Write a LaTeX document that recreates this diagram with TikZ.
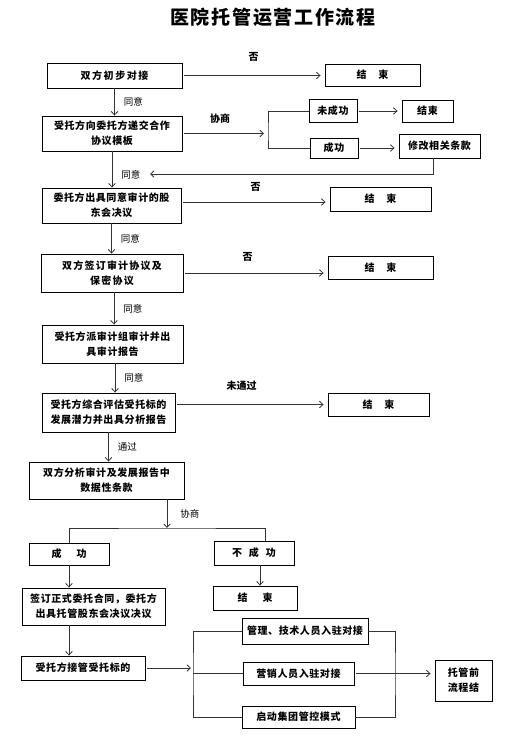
\documentclass[tikz,border=0pt]{standalone}
\usepackage{fontspec}
\setmainfont{Noto Sans CJK SC}
\newfontfamily\boxfont{Noto Sans CJK SC}[LetterSpace=6]
\usetikzlibrary{positioning, arrows.meta}

\begin{document}
\begin{tikzpicture}[x=1pt, y=-1pt, >={Straight Barb[length=3.5pt, width=6.5pt]}]%
        \tikzstyle{box}=[draw=black, line width=0.9pt, inner sep=0pt, align=center, font=\boxfont\bfseries\fontsize{10}{15}\selectfont];%
        \tikzstyle{conn}=[line width=0.8pt, draw=black!80];%
        \tikzstyle{harr}=[conn, ->, shorten >=4pt, shorten <=2pt];%
        \tikzstyle{lb}=[font=\fontsize{9.5}{11}\selectfont, inner sep=0pt];%
        \tikzstyle{lbb}=[font=\bfseries\fontsize{10}{11}\selectfont, inner sep=0pt];%
        \useasboundingbox (0, 0) rectangle (515, 741);

        \node (title) at (273, 17) [font=\bfseries\fontsize{19}{20}\selectfont\addfontfeature{LetterSpace=9}] {医院托管运营工作流程};

        \node (a1) at (114.5, 75.5) [box, minimum width=135, minimum height=25] {\addfontfeature{LetterSpace=16}双方初步对接};
        \node (e1) at (372.5, 75) [box, minimum width=95, minimum height=22] {结\hspace{1.2em}束};

        \node (b1) at (112, 133.5) [box, minimum width=140, minimum height=35] {受托方向委托方递交合作\\协议模板};
        \node (n1) at (333, 111) [box, minimum width=48, minimum height=23] {未成功};
        \node (e2) at (427.5, 111) [box, minimum width=51, minimum height=22] {结束};
        \node (s1) at (334, 148) [box, minimum width=48, minimum height=20] {成功};
        \node (m1) at (439.5, 146) [box, minimum width=81, minimum height=24] {修改相关条款};
        \coordinate (fork1) at (268, 133.5);
        \coordinate (ret) at (150, 174);

        \node (c1) at (111.5, 205.5) [box, minimum width=139, minimum height=35] {委托方出具同意审计的股\\东会决议};
        \node (e3) at (380.5, 199) [box, minimum width=101, minimum height=24] {结\hspace{1.2em}束};

        \node (d1) at (112, 273) [box, minimum width=142, minimum height=38] {\addfontfeature{LetterSpace=12}双方签订审计协议及\\\addfontfeature{LetterSpace=12}保密协议};
        \node (e4) at (380.5, 267.5) [box, minimum width=105, minimum height=23] {结\hspace{1.2em}束};

        \node (f1) at (112.5, 344) [box, minimum width=141, minimum height=38] {受托方派审计组审计并出\\具审计报告};

        \node (g1) at (108.5, 412.5) [box, minimum width=133, minimum height=39] {受托方综合评估受托标的\\发展潜力并出具分析报告};
        \node (e5) at (378.5, 404.5) [box, minimum width=101, minimum height=23] {结\hspace{1.2em}束};

        \node (h1) at (106.5, 480.5) [box, minimum width=155, minimum height=37] {双方分析审计及发展报告中\\数据性条款};
        \coordinate (fork2) at (167, 528);

        \node (s2) at (69, 554) [box, minimum width=80, minimum height=22] {成\hspace{1.5em}功};
        \node (u1) at (254, 553) [box, minimum width=80, minimum height=24] {不\hspace{0.7em}成\hspace{0.7em}功};
        \node (i1) at (93.5, 606.5) [box, minimum width=143, minimum height=37] {签订正式委托合同，委托方\\出具托管股东会决议决议};
        \node (e6) at (255, 598) [box, minimum width=84, minimum height=24] {结\hspace{1.5em}束};
        \node (j1) at (83, 668) [box, minimum width=124, minimum height=24] {受托方接管受托标的};

        \node (k1) at (305, 631) [box, minimum width=126, minimum height=26] {管理、技术人员入驻对接};
        \node (k2) at (298.5, 673.5) [box, minimum width=111, minimum height=23] {营销人员入驻对接};
        \node (k3) at (298.5, 717) [box, minimum width=113, minimum height=22] {启动集团管控模式};
        \node (m2) at (463.5, 680.5) [box, minimum width=57, minimum height=41] {托管前\\流程结};
        \coordinate (fork3) at (193, 673.5);
        \coordinate (join) at (395, 673.5);

        \draw[harr] (a1.east) -- (a1.east -| e1.west) node[midway, above=14pt, lbb] {否};
        \draw[conn, ->] (a1.south) -- (a1.south |- b1.north) node[midway, right=9pt, lb] {同意};

        \draw[harr] (b1.east) -- (fork1) node[midway, above=10pt, xshift=-5pt, lbb] {协商};
        \draw[conn] (n1.west) -| (fork1) |- (s1.west);
        \draw[harr] (n1) -- (e2);
        \draw[harr] (s1.east) -- (s1.east -| m1.west);
        \draw[conn, ->] ([xshift=-6pt]m1.south) |- (ret);
        \draw[conn, ->] (b1.south) -- (b1.south |- c1.north) node[pos=0.65, right=9pt, lb] {同意};

        \draw[harr] ([yshift=3.5pt]c1.east) -- ([yshift=3.5pt]c1.east -| e3.west) node[midway, above=10pt, lbb] {否};
        \draw[conn, ->] (c1.south) -- (c1.south |- d1.north) node[midway, right=9pt, lb] {同意};

        \draw[harr] (d1.east) -- (d1.east -| e4.west) node[midway, above=11pt, xshift=-8pt, lbb] {否};
        \draw[conn, ->] ([xshift=2pt]d1.south) -- ([xshift=2pt]d1.south |- f1.north) node[midway, right=9pt, lb] {同意};

        \draw[conn, ->] ([xshift=2.5pt]f1.south) -- ([xshift=2.5pt]f1.south |- g1.north) node[midway, right=9pt, lb] {同意};
        \draw[harr] ([yshift=8pt]g1.east) -- ([yshift=8pt]g1.east -| e5.west) node[midway, above=14pt, xshift=-10pt, lbb] {未通过};
        \draw[conn, ->] (g1.south) -- (g1.south |- h1.north) node[midway, right=9pt, lb] {通过};

        \draw[conn, ->] (h1.south -| fork2) -- (fork2) node[midway, right=13pt, lb] {协商};
        \draw[conn] (s2.north) |- (fork2) -| ([xshift=11pt]u1.north);
        \draw[conn, ->] (s2.south) -- (s2.south |- i1.north);
        \draw[conn, ->] ([xshift=6pt]u1.south) -- ([xshift=6pt]u1.south |- e6.north);
        \draw[conn, ->] ([xshift=-24.5pt]i1.south) -- ([xshift=-24.5pt]i1.south |- j1.north);

        \draw[conn, ->, shorten >=2pt, shorten <=2pt] (j1.east) -- (j1.east -| fork3);
        \draw[conn] (k1.west) -| (fork3) |- (k3.west);
        \draw[conn] (fork3) -- (k2.west);
        \draw[conn] (k1.east) -| (join) |- (k3.east);
        \draw[harr] (k2.east) -- (k2.east -| m2.west);
    \end{tikzpicture}
\end{document}
